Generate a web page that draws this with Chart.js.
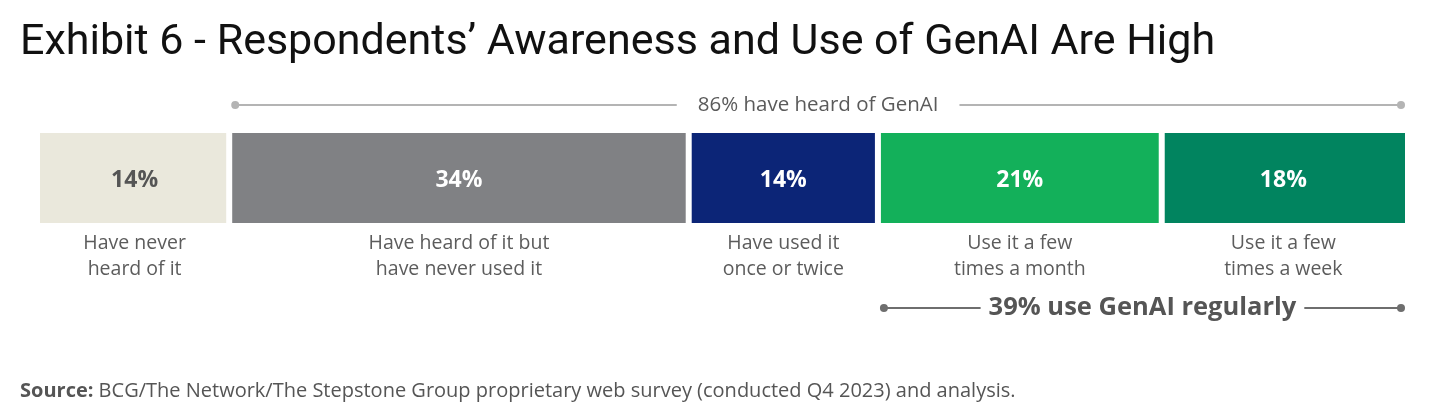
<!DOCTYPE html>
<html>
<head>
<meta charset="utf-8">
<script src="https://cdn.jsdelivr.net/npm/chart.js@4.4.1/dist/chart.umd.min.js"></script>
<style>
  html, body { margin: 0; padding: 0; background: #ffffff; }
  #wrap { position: relative; width: 1445px; height: 415px; }
</style>
</head>
<body>
<div id="wrap"><canvas id="chart"></canvas></div>
<script>
// ---- Data ----
const categories = [
  ["Have never", "heard of it"],
  ["Have heard of it but", "have never used it"],
  ["Have used it", "once or twice"],
  ["Use it a few", "times a month"],
  ["Use it a few", "times a week"]
];
const values = [14, 34, 14, 21, 18];
const valueLabels = ["14%", "34%", "14%", "21%", "18%"];
const bracketTexts = ["86% have heard of GenAI", "39% use GenAI regularly"];
const bracketFrom = [1, 3];
const bracketTo = [4, 4];
const titleText = "Exhibit 6 - Respondents\u2019 Awareness and Use of GenAI Are High";
const sourceBold = "Source:";
const sourceText = " BCG/The Network/The Stepstone Group proprietary web survey (conducted Q4 2023) and analysis.";

// ---- Styles ----
const barColors = ["#EAE8DC", "#808184", "#0C2577", "#13B05A", "#01845F"];
const valueColors = ["#555555", "#ffffff", "#ffffff", "#ffffff", "#ffffff"];
const total = values.reduce((a, b) => a + b, 0);

const datasets = values.map((v, i) => ({
  label: categories[i].join(" "),
  data: [v],
  backgroundColor: barColors[i],
  borderColor: "#ffffff",
  borderWidth: { left: i === 0 ? 0 : 3, right: i === values.length - 1 ? 0 : 3, top: 0, bottom: 0 },
  borderSkipped: false,
  inflateAmount: 0,
  barPercentage: 1,
  categoryPercentage: 1
}));

const decor = {
  id: "decor",
  afterDatasetsDraw(chart) {
    const ctx = chart.ctx;
    const xs = chart.scales.x;
    ctx.save();
    // Title
    ctx.fillStyle = "#111111";
    ctx.font = "400 43px Roboto";
    ctx.textAlign = "left";
    ctx.textBaseline = "alphabetic";
    ctx.fillText(titleText, 20, 54);

    // Source
    ctx.font = "700 20px 'Open Sans'";
    ctx.fillStyle = "#555555";
    ctx.fillText(sourceBold, 20, 397);
    const bw = ctx.measureText(sourceBold).width;
    ctx.font = "400 20px 'Open Sans'";
    ctx.fillText(sourceText, 20 + bw, 397);

    // Segments labels
    const cum = [];
    let acc = 0;
    values.forEach(v => { cum.push(acc); acc += v; });
    values.forEach((v, i) => {
      const el = chart.getDatasetMeta(i).data[0];
      const left = Math.min(el.x, el.base), right = Math.max(el.x, el.base);
      const cx = (left + right) / 2;
      const bottom = el.y + el.height / 2;
      ctx.textAlign = "center";
      ctx.textBaseline = "middle";
      ctx.font = "700 23px 'Open Sans'";
      ctx.fillStyle = valueColors[i];
      ctx.fillText(valueLabels[i], cx, el.y + 2);
      ctx.font = "400 19.5px 'Open Sans'";
      ctx.fillStyle = "#5c5c5c";
      categories[i].forEach((line, k) => {
        ctx.fillText(line, cx, bottom + 20 + k * 26);
      });
    });

    // Brackets
    const area = chart.chartArea;
    bracketTexts.forEach((txt, b) => {
      const x0 = xs.getPixelForValue(cum[bracketFrom[b]]) + 6;
      const x1 = xs.getPixelForValue(cum[bracketTo[b]] + values[bracketTo[b]]) - 4;
      const top = b === 0;
      const y = top ? area.top - 28 : area.bottom + 85;
      const col = top ? "#b4b4b4" : "#6e6e6e";
      const textCol = top ? "#5a5a5a" : "#555555";
      ctx.font = top ? "400 20.5px 'Open Sans'" : "700 25.5px 'Open Sans'";
      const tw = ctx.measureText(txt).width;
      const cx = (x0 + x1) / 2;
      const gap = top ? 21 : 8;
      ctx.strokeStyle = col;
      ctx.lineWidth = 2;
      ctx.beginPath();
      ctx.moveTo(x0, y); ctx.lineTo(cx - tw / 2 - gap, y);
      ctx.moveTo(cx + tw / 2 + gap, y); ctx.lineTo(x1, y);
      ctx.stroke();
      ctx.fillStyle = col;
      [x0, x1].forEach(px => { ctx.beginPath(); ctx.arc(px, y, 4, 0, Math.PI * 2); ctx.fill(); });
      ctx.fillStyle = textCol;
      ctx.textAlign = "center";
      ctx.textBaseline = "middle";
      ctx.fillText(txt, cx, y);
    });
    ctx.restore();
  }
};

new Chart(document.getElementById("chart"), {
  type: "bar",
  data: { labels: [""], datasets },
  options: {
    indexAxis: "y",
    responsive: true,
    maintainAspectRatio: false,
    animation: false,
    layout: { padding: { left: 40, right: 40, top: 133, bottom: 192 } },
    scales: {
      x: { stacked: true, min: 0, max: total, display: false },
      y: { stacked: true, display: false }
    },
    plugins: { legend: { display: false }, tooltip: { enabled: false }, title: { display: false } }
  },
  plugins: [decor]
});
</script>
</body>
</html>
